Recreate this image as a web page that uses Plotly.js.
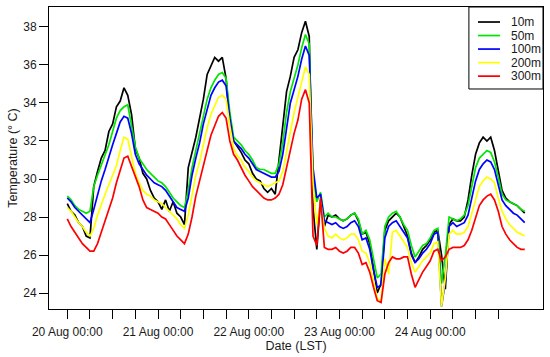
<!DOCTYPE html>
<html>
<head>
<meta charset="utf-8">
<script src="https://cdn.plot.ly/plotly-3.0.1.min.js"></script>
<style>html,body{margin:0;padding:0;background:#fff}#chart{width:550px;height:357px}</style>
</head>
<body>
<div id="chart"></div>
<script>
// Hourly samples starting 20 Aug 00:00 (LST)
const startTime = Date.UTC(2019, 7, 20, 0, 0, 0);
const stepHours = 1;

const seriesNames = ["10m", "50m", "100m", "200m", "300m"];

const t10m = [
 28.7,28.3,28.1,27.7,27.5,27.0,26.9,29.6,30.4,31.1,31.5,32.5,32.9,33.8,34.1,34.8,
 34.4,33.4,31.6,31.1,30.3,30.0,29.4,29.0,28.8,28.4,28.9,28.3,28.8,28.2,28.0,27.6,
 30.6,31.4,32.2,33.2,34.2,35.5,36.0,36.4,36.2,36.4,35.3,33.0,
 32.0,31.7,31.4,31.0,30.8,30.3,30.0,29.9,29.5,29.3,29.5,29.2,
 31.0,33.0,34.6,35.4,36.4,36.8,37.7,38.3,37.5,
 28.5,26.3,28.9,27.5,28.1,28.0,28.1,
 27.9,27.8,27.9,28.1,28.2,27.8,27.1,27.2,26.6,25.3,24.0,24.5,27.3,
 27.8,28.0,28.2,28.0,27.5,27.0,26.1,25.6,25.9,26.3,26.5,26.8,27.2,27.3,
 26.0,24.2,27.6,27.9,27.8,27.8,28.0,28.9,30.2,31.3,31.9,32.2,32.0,32.2,31.5,30.5,29.4,29.0,28.8,28.7,28.6,28.4,28.2
];
const t50m = [
 29.1,28.9,28.6,28.4,28.3,28.2,28.3,29.6,30.2,30.7,31.2,31.8,32.5,33.2,33.6,33.8,
 33.9,32.9,31.7,31.1,30.8,30.5,30.3,30.1,29.9,29.8,29.6,29.3,29.0,28.8,28.6,28.5,
 29.4,30.6,31.5,32.4,33.4,34.2,34.8,35.2,35.5,35.6,35.3,33.5,
 32.2,32.0,31.8,31.5,31.3,31.0,30.6,30.5,30.5,30.4,30.3,30.3,
 30.8,31.9,33.5,34.6,35.3,36.0,36.9,37.6,37.1,
 30.0,28.8,29.3,28.0,28.2,28.0,28.0,
 27.9,27.8,27.9,28.1,28.2,27.9,27.1,27.3,26.8,25.8,24.8,25.0,27.5,
 28.0,28.2,28.3,28.0,27.6,27.3,26.5,25.9,26.2,26.5,26.6,26.9,27.3,27.4,
 24.5,26.0,28.0,27.9,27.8,27.9,28.1,28.6,29.6,30.6,31.1,31.3,31.5,31.4,30.9,30.1,29.2,28.9,28.8,28.7,28.6,28.4,28.3
];
const t100m = [
 29.0,28.8,28.5,28.3,28.1,27.9,27.7,28.4,29.2,29.9,30.5,31.2,31.8,32.4,33.0,33.3,
 33.2,32.4,31.3,30.8,30.5,30.2,30.0,29.8,29.7,29.6,29.4,29.1,28.8,28.5,28.4,28.3,
 29.0,30.2,31.1,31.9,32.9,33.7,34.4,34.8,35.1,35.2,34.9,33.2,
 32.0,31.8,31.6,31.3,31.1,30.8,30.5,30.4,30.3,30.2,30.1,30.1,
 30.4,31.3,32.8,34.0,34.7,35.4,36.3,37.0,36.5,
 30.6,29.0,29.2,27.8,27.7,27.6,27.7,
 27.5,27.4,27.5,27.7,27.8,27.5,26.8,26.9,26.3,25.2,24.3,24.4,26.9,
 27.5,27.7,27.8,27.5,27.2,26.9,26.0,25.6,25.8,26.1,26.3,26.6,27.1,27.2,
 23.3,24.6,27.5,27.7,27.5,27.6,27.7,28.1,29.0,29.9,30.5,30.8,31.0,30.9,30.5,29.7,28.9,28.6,28.4,28.2,28.1,27.9,27.7
];
const t200m = [
 28.5,28.3,28.0,27.7,27.5,27.2,27.0,27.4,28.1,28.7,29.2,29.7,30.2,30.7,31.5,32.2,
 32.1,31.2,30.3,29.8,29.4,29.2,29.1,28.9,28.8,28.7,28.5,28.3,28.1,27.9,27.6,27.4,
 28.1,29.2,30.2,30.9,31.9,32.7,33.4,33.9,34.3,34.4,34.2,32.8,
 31.6,31.2,31.0,30.6,30.4,30.1,29.9,29.8,29.7,29.6,29.7,29.8,
 29.9,30.4,31.4,32.6,33.5,34.3,35.1,35.9,35.5,
 29.7,27.6,28.8,27.4,27.0,26.9,27.1,
 26.9,26.8,26.9,27.1,27.1,26.8,26.2,26.1,25.6,24.6,23.7,23.6,25.8,
 25.0,27.2,27.3,27.0,26.7,26.4,25.6,25.1,25.4,25.7,25.9,26.1,26.6,26.7,
 23.3,24.8,27.1,27.3,27.1,27.1,27.2,27.5,28.2,28.9,29.6,29.9,30.1,30.0,29.8,29.0,28.3,27.9,27.6,27.4,27.2,27.1,27.0
];
const t300m = [
 27.9,27.5,27.2,26.9,26.6,26.4,26.2,26.2,26.6,27.2,27.8,28.4,29.0,29.8,30.5,31.1,
 31.2,30.7,30.1,29.6,28.9,28.5,28.4,28.3,28.2,28.0,27.9,27.6,27.3,27.0,26.8,26.6,
 27.1,28.0,29.1,29.9,30.8,31.6,32.3,32.8,33.3,33.5,33.2,32.0,
 31.3,31.0,30.6,30.2,29.9,29.6,29.4,29.2,29.0,28.9,28.9,29.0,
 29.2,29.7,30.6,31.6,32.4,33.1,34.2,34.7,34.0,
 27.0,26.5,29.0,26.4,26.3,26.3,26.4,
 26.2,26.1,26.2,26.4,26.4,26.1,25.5,25.6,25.1,24.3,23.6,23.5,25.0,
 25.6,25.9,25.8,25.8,25.9,25.9,25.0,24.3,24.7,25.1,25.4,25.7,26.2,26.3,
 25.7,25.9,26.3,26.4,26.4,26.4,26.5,26.8,27.3,27.9,28.6,28.9,29.1,29.2,28.9,28.3,27.5,27.1,26.8,26.6,26.4,26.3,26.3
];

// Axis ticks
const tickDates = [
 "2019-08-20 00:00","2019-08-20 06:00","2019-08-20 12:00","2019-08-20 18:00",
 "2019-08-21 00:00","2019-08-21 06:00","2019-08-21 12:00","2019-08-21 18:00",
 "2019-08-22 00:00","2019-08-22 06:00","2019-08-22 12:00","2019-08-22 18:00",
 "2019-08-23 00:00","2019-08-23 06:00","2019-08-23 12:00","2019-08-23 18:00",
 "2019-08-24 00:00","2019-08-24 06:00","2019-08-24 12:00","2019-08-24 18:00"
];
const tickLabels = [
 "20 Aug 00:00","","","",
 "21 Aug 00:00","","","",
 "22 Aug 00:00","","","",
 "23 Aug 00:00","","","",
 "24 Aug 00:00","","",""
];
const yTicks = [24, 26, 28, 30, 32, 34, 36, 38];

const seriesValues = [t10m, t50m, t100m, t200m, t300m];
const seriesColors = ["#000000", "#00e600", "#0000ff", "#ffff00", "#ff0000"];

function timeAt(i) {
  const d = new Date(startTime + i * stepHours * 3600e3);
  return d.toISOString().slice(0, 16).replace("T", " ");
}
const times = t10m.map((_, i) => timeAt(i));

const traces = seriesValues.map((vals, k) => ({
  type: "scatter", mode: "lines", name: seriesNames[k],
  x: times, y: vals, showlegend: false,
  line: {color: seriesColors[k], width: 1.7}
}));

const font = {family: "Liberation Sans, Arial, sans-serif", size: 12, color: "#1a1a1a"};

// Boxed legend in the top-right corner (paper coordinates)
const legBox = {x0: 0.850, x1: 1.0, y0: 0.7285, y1: 1.0};
const legFirstRow = 0.9503, legRowStep = 0.0448;
const legLineX0 = 0.8684, legLineX1 = 0.9130, legTextX = 0.9312;

const shapes = [{
  type: "rect", xref: "paper", yref: "paper",
  x0: legBox.x0, x1: legBox.x1, y0: legBox.y0, y1: legBox.y1,
  line: {color: "#000", width: 1}, fillcolor: "#fff", layer: "above"
}];
const annotations = [];
seriesNames.forEach((nm, k) => {
  const yy = legFirstRow - k * legRowStep;
  shapes.push({type: "line", xref: "paper", yref: "paper",
    x0: legLineX0, x1: legLineX1, y0: yy, y1: yy,
    line: {color: seriesColors[k], width: 1.7}, layer: "above"});
  annotations.push({xref: "paper", yref: "paper", x: legTextX, y: yy,
    xanchor: "left", yanchor: "middle", text: nm, showarrow: false,
    font: {family: font.family, size: 12, color: "#1a1a1a"}});
});

const layout = {
  width: 550, height: 357,
  margin: {l: 49, r: 7, t: 7, b: 48},
  paper_bgcolor: "#fff", plot_bgcolor: "#fff",
  font: font,
  showlegend: false,
  shapes: shapes,
  annotations: annotations,
  xaxis: {
    type: "date",
    range: ["2019-08-19 19:10", "2019-08-25 05:50"],
    tickmode: "array", tickvals: tickDates, ticktext: tickLabels,
    ticks: "outside", ticklen: 9, tickcolor: "#000", tickwidth: 1,
    ticklabelstandoff: 3,
    showline: true, linecolor: "#000", linewidth: 1, mirror: true,
    showgrid: false, zeroline: false,
    tickfont: {size: 12},
    title: {text: "Date (LST)", font: {size: 12.5}, standoff: 2}
  },
  yaxis: {
    range: [23.16, 39.05],
    tickmode: "array", tickvals: yTicks,
    ticks: "outside", ticklen: 9, tickcolor: "#000", tickwidth: 1,
    showline: true, linecolor: "#000", linewidth: 1, mirror: true,
    showgrid: false, zeroline: false,
    tickfont: {size: 12},
    title: {text: "Temperature (° C)", font: {size: 12.5}, standoff: 2}
  }
};

Plotly.newPlot("chart", traces, layout, {displayModeBar: false, staticPlot: true});
</script>
</body>
</html>
